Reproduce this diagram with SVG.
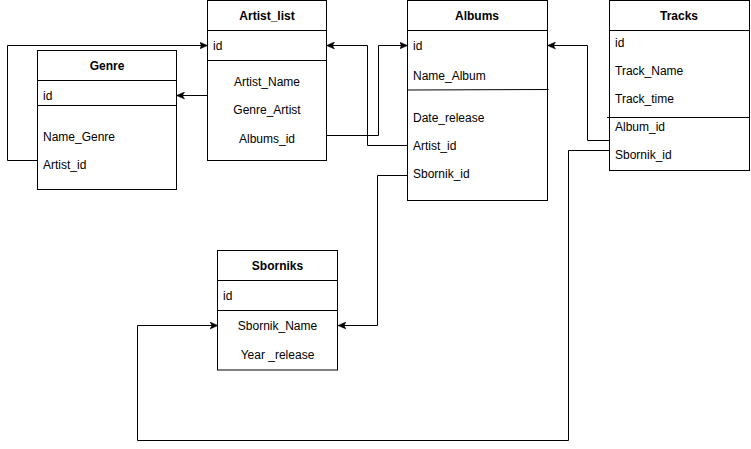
<svg xmlns="http://www.w3.org/2000/svg" width="751" height="449" viewBox="0 0 751 449">
<defs>
<style>
.box{fill:#fff;stroke:#000;stroke-width:1}
.ln{stroke:#000;stroke-width:1;fill:none}
.t{font-family:"Liberation Sans",Arial,sans-serif;font-size:12px;fill:#000}
.h{font-family:"Liberation Sans",Arial,sans-serif;font-size:12px;font-weight:bold;fill:#000;text-anchor:middle}
.c{text-anchor:middle}
.e{stroke:#000;stroke-width:1;fill:none;marker-end:url(#arr)}
</style>
<marker id="arr" viewBox="0 0 8 8" refX="7.5" refY="4" markerWidth="8" markerHeight="8" markerUnits="userSpaceOnUse" orient="auto">
<path d="M0,0.5 L8,4 L0,7.5 L2,4 Z" fill="#000" stroke="#000" stroke-width="0.5"/>
</marker>
</defs>
<rect width="751" height="449" fill="#fff"/>
<g id="connectors">
<path class="e" d="M37.5,160.5 H7.5 V45.5 H207"/>
<path class="e" d="M207.5,95.5 H177"/>
<path class="e" d="M327,135.5 H378.5 V45.5 H407"/>
<path class="e" d="M407,145.5 H367.5 V45.5 H327"/>
<path class="e" d="M609,140.5 H587.5 V45.5 H548"/>
<path class="e" d="M609,150.5 H568.5 V440.5 H137.5 V325.5 H217.5"/>
<path class="e" d="M407,175.5 H377.5 V325.5 H338.5"/>
</g>
<g id="artist_list">
<rect class="box" x="207.5" y="0.5" width="119" height="160"/>
<line class="ln" x1="207.5" y1="30.5" x2="326.5" y2="30.5"/>
<line class="ln" x1="207.5" y1="60.5" x2="326.5" y2="60.5"/>
<text class="h" x="267" y="20">Artist_list</text>
<text class="t" x="213" y="50">id</text>
<text class="t c" x="267" y="86">Artist_Name</text>
<text class="t c" x="267" y="114">Genre_Artist</text>
<text class="t c" x="267" y="143">Albums_id</text>
</g>
<g id="genre">
<rect class="box" x="37.5" y="50.5" width="139" height="139"/>
<line class="ln" x1="37.5" y1="80.5" x2="176.5" y2="80.5"/>
<line class="ln" x1="37.5" y1="105.5" x2="176.5" y2="105.5"/>
<text class="h" x="107" y="70">Genre</text>
<text class="t" x="43" y="100">id</text>
<text class="t" x="43" y="141">Name_Genre</text>
<text class="t" x="43" y="169">Artist_id</text>
</g>
<g id="albums">
<rect class="box" x="407.5" y="0.5" width="140" height="200"/>
<line class="ln" x1="407.5" y1="30.5" x2="547.5" y2="30.5"/>
<line class="ln" x1="407.5" y1="90" x2="548.5" y2="89.5"/>
<text class="h" x="477" y="20">Albums</text>
<text class="t" x="413" y="50">id</text>
<text class="t" x="413" y="80">Name_Album</text>
<text class="t" x="413" y="122">Date_release</text>
<text class="t" x="413" y="150">Artist_id</text>
<text class="t" x="413" y="178">Sbornik_id</text>
</g>
<g id="tracks">
<rect class="box" x="609.5" y="0.5" width="140" height="170"/>
<line class="ln" x1="609.5" y1="30.5" x2="749.5" y2="30.5"/>
<line class="ln" x1="607" y1="117.5" x2="749.5" y2="117.5"/>
<text class="h" x="679" y="20">Tracks</text>
<text class="t" x="615" y="47">id</text>
<text class="t" x="615" y="75">Track_Name</text>
<text class="t" x="615" y="103">Track_time</text>
<text class="t" x="615" y="131">Album_id</text>
<text class="t" x="615" y="159">Sbornik_id</text>
</g>
<g id="sborniks">
<rect class="box" x="217.5" y="250.5" width="120" height="119.5"/>
<line class="ln" x1="217.5" y1="280.5" x2="337.5" y2="280.5"/>
<line class="ln" x1="217.5" y1="310.5" x2="337.5" y2="310.5"/>
<text class="h" x="277.5" y="270">Sborniks</text>
<text class="t" x="223" y="300">id</text>
<text class="t c" x="277.5" y="330">Sbornik_Name</text>
<text class="t c" x="277.5" y="359">Year _release</text>
</g>
</svg>
